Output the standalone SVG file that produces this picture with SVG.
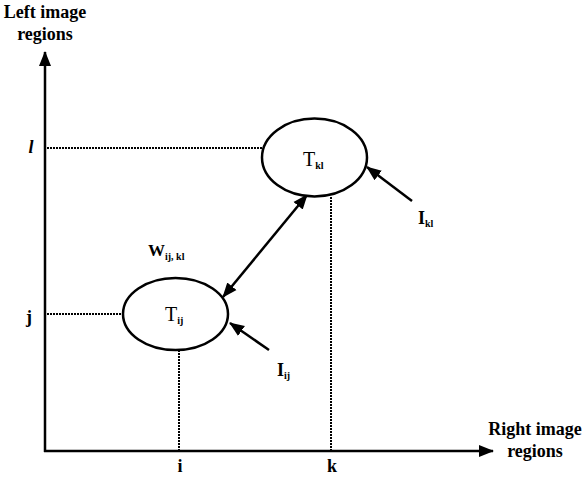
<svg xmlns="http://www.w3.org/2000/svg" width="584" height="477" viewBox="0 0 584 477">
<style>
.lbl{font-family:"Liberation Serif","Times New Roman",serif;fill:#000}
.b{font-weight:bold}
.ax{stroke:#000;stroke-width:2.5;fill:none}
.dot{stroke:#000;stroke-width:2;stroke-dasharray:2,1;fill:none}
.node{fill:#fff;stroke:#000;stroke-width:2.5}
.arr{stroke:#000;stroke-width:2.5;fill:none}
</style>
<defs>
<marker id="ah" markerUnits="userSpaceOnUse" markerWidth="16" markerHeight="14" refX="14" refY="6" orient="auto-start-reverse" viewBox="0 0 16 12">
<path d="M0,0 L15,6 L0,12 z" fill="#000"/>
</marker>
</defs>
<rect width="584" height="477" fill="#fff"/>
<g id="axes">
<line class="ax" x1="45" y1="452" x2="45" y2="52" marker-end="url(#ah)"/>
<line class="ax" x1="44" y1="451" x2="493" y2="451" marker-end="url(#ah)"/>
<text class="lbl b" x="45" y="18" font-size="18" text-anchor="middle">Left image</text>
<text class="lbl b" x="45" y="40" font-size="18" text-anchor="middle">regions</text>
<text class="lbl b" x="535" y="435" font-size="18" text-anchor="middle">Right image</text>
<text class="lbl b" x="535" y="457" font-size="18" text-anchor="middle">regions</text>
<text class="lbl b" x="31" y="153" font-size="18" font-style="italic" text-anchor="middle">l</text>
<text class="lbl b" x="29" y="323" font-size="18" text-anchor="middle">j</text>
<text class="lbl b" x="180" y="472" font-size="18" text-anchor="middle">i</text>
<text class="lbl b" x="332" y="472" font-size="18" text-anchor="middle">k</text>
</g>
<g id="connectors">
<line class="dot" x1="47" y1="148" x2="262" y2="148"/>
<line class="dot" x1="47" y1="314" x2="123" y2="314"/>
<line class="dot" x1="179" y1="350" x2="179" y2="450"/>
<line class="dot" x1="331" y1="197" x2="331" y2="450"/>
<line class="arr" x1="223" y1="297" x2="307" y2="195" marker-start="url(#ah)" marker-end="url(#ah)"/>
<line class="arr" x1="412" y1="201" x2="367" y2="167" marker-end="url(#ah)"/>
<line class="arr" x1="269" y1="350" x2="230" y2="323" marker-end="url(#ah)"/>
<text class="lbl b" x="148" y="256" font-size="17">W<tspan font-size="10" dy="4">ij, kl</tspan></text>
</g>
<g id="Tkl">
<ellipse class="node" cx="314.5" cy="157.5" rx="52.5" ry="39"/>
<text class="lbl" x="303" y="166" font-size="20">T<tspan class="b" font-size="10" dy="3">kl</tspan></text>
</g>
<g id="Tij">
<ellipse class="node" cx="175.5" cy="314" rx="52.5" ry="36"/>
<text class="lbl" x="165" y="321" font-size="20">T<tspan class="b" font-size="10" dy="3">ij</tspan></text>
</g>
<g id="Ikl">
<text class="lbl b" x="418" y="224" font-size="18">I<tspan font-size="10" dy="3">kl</tspan></text>
</g>
<g id="Iij">
<text class="lbl b" x="277" y="376" font-size="18">I<tspan font-size="10" dy="3">ij</tspan></text>
</g>
</svg>
